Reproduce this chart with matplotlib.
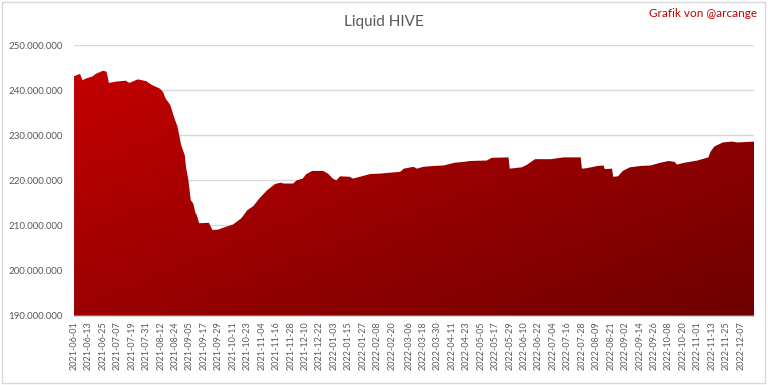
import numpy as np
import pandas as pd
import matplotlib
matplotlib.use("Agg")
import matplotlib.pyplot as plt
import matplotlib.dates as mdates
from matplotlib.ticker import FuncFormatter
from matplotlib.patches import Rectangle

# Liquid HIVE (millions of HIVE)
dates = [
    "2021-06-01", "2021-06-06", "2021-06-08", "2021-06-11", "2021-06-16", "2021-06-19",
    "2021-06-25", "2021-06-28", "2021-06-30", "2021-07-06", "2021-07-14", "2021-07-17",
    "2021-07-24", "2021-07-31", "2021-08-05", "2021-08-11", "2021-08-14", "2021-08-16",
    "2021-08-20", "2021-08-23", "2021-08-26", "2021-08-29", "2021-09-01", "2021-09-02",
    "2021-09-04", "2021-09-06", "2021-09-08", "2021-09-10", "2021-09-11", "2021-09-13",
    "2021-09-21", "2021-09-24", "2021-09-29", "2021-10-05", "2021-10-11", "2021-10-18",
    "2021-10-23", "2021-10-28", "2021-11-02", "2021-11-08", "2021-11-15", "2021-11-20",
    "2021-11-22", "2021-11-30", "2021-12-03", "2021-12-08", "2021-12-11", "2021-12-16",
    "2021-12-25", "2021-12-29", "2022-01-02", "2022-01-05", "2022-01-08", "2022-01-16",
    "2022-01-19", "2022-01-26", "2022-02-02", "2022-02-10", "2022-02-27", "2022-03-02",
    "2022-03-10", "2022-03-13", "2022-03-18", "2022-03-27", "2022-04-04", "2022-04-13",
    "2022-04-21", "2022-04-26", "2022-05-10", "2022-05-14", "2022-05-28", "2022-05-29",
    "2022-06-08", "2022-06-12", "2022-06-19", "2022-07-02", "2022-07-13", "2022-07-27",
    "2022-07-28", "2022-08-01", "2022-08-10", "2022-08-15", "2022-08-16", "2022-08-22",
    "2022-08-23", "2022-08-27", "2022-08-31", "2022-09-06", "2022-09-15", "2022-09-23",
    "2022-10-01", "2022-10-08", "2022-10-13", "2022-10-15", "2022-10-21", "2022-11-01",
    "2022-11-10", "2022-11-12", "2022-11-15", "2022-11-22", "2022-11-30", "2022-12-04",
    "2022-12-18",
]
liquid_m = [
    243.1, 243.6, 242.2, 242.6, 243.0, 243.6,
    244.3, 244.1, 241.6, 241.9, 242.1, 241.6,
    242.4, 242.0, 241.1, 240.4, 239.6, 238.2,
    236.7, 234.1, 231.9, 227.8, 225.6, 223.0,
    220.1, 215.6, 214.9, 212.7, 212.3, 210.5,
    210.6, 209.0, 209.1, 209.7, 210.2, 211.6,
    213.4, 214.3, 216.0, 217.7, 219.2, 219.5,
    219.3, 219.3, 220.0, 220.4, 221.4, 222.1,
    222.1, 221.5, 220.4, 220.0, 220.9, 220.8,
    220.4, 220.9, 221.4, 221.5, 221.9, 222.6,
    223.0, 222.6, 223.0, 223.2, 223.3, 223.9,
    224.1, 224.3, 224.4, 225.0, 225.1, 222.6,
    222.9, 223.4, 224.7, 224.7, 225.1, 225.1,
    222.6, 222.7, 223.2, 223.3, 222.5, 222.6,
    220.8, 220.9, 222.1, 222.9, 223.2, 223.3,
    223.9, 224.3, 224.1, 223.5, 223.9, 224.4,
    225.1, 226.4, 227.5, 228.4, 228.6, 228.4,
    228.6,
]
tick_labels = [
    "2021-06-01", "2021-06-13", "2021-06-25", "2021-07-07", "2021-07-19", "2021-07-31",
    "2021-08-12", "2021-08-24", "2021-09-05", "2021-09-17", "2021-09-29", "2021-10-11",
    "2021-10-23", "2021-11-04", "2021-11-16", "2021-11-28", "2021-12-10", "2021-12-22",
    "2022-01-03", "2022-01-15", "2022-01-27", "2022-02-08", "2022-02-20", "2022-03-06",
    "2022-03-18", "2022-03-30", "2022-04-11", "2022-04-23", "2022-05-05", "2022-05-17",
    "2022-05-29", "2022-06-10", "2022-06-22", "2022-07-04", "2022-07-16", "2022-07-28",
    "2022-08-09", "2022-08-21", "2022-09-02", "2022-09-14", "2022-09-26", "2022-10-08",
    "2022-10-20", "2022-11-01", "2022-11-13", "2022-11-25", "2022-12-07",
]

x = mdates.date2num(pd.to_datetime(dates))
y = np.array(liquid_m) * 1e6

plt.rcParams['font.family'] = ['Liberation Sans Narrow', 'Lato', 'DejaVu Sans']

fig = plt.figure(figsize=(7.68, 3.85), dpi=100, facecolor='white')
ax = fig.add_axes([0.0964, 0.180, 0.8854, 0.703])

ymin, ymax = 190e6, 250e6

# area with diagonal gradient (bright red top-left -> dark red bottom-right)
poly = ax.fill_between(x, ymin, y, facecolor='none', edgecolor='none')
nx, ny = 300, 150
gx, gy = np.meshgrid(np.linspace(0, 1, nx), np.linspace(0, 1, ny))
t = (gx + gy) / 2
c0 = np.array([200, 0, 0]) / 255
c1 = np.array([110, 0, 0]) / 255
img = c0[None, None, :] * (1 - t[..., None]) + c1[None, None, :] * t[..., None]
im = ax.imshow(img, extent=[x[0], x[-1], ymin, ymax], origin='upper',
               aspect='auto', zorder=2, interpolation='bilinear')
im.set_clip_path(poly.get_paths()[0], transform=ax.transData)

ax.set_xlim(x[0], x[-1])
ax.set_ylim(ymin, ymax)
ax.set_yticks(np.arange(190e6, 250e6 + 1, 10e6))
ax.yaxis.set_major_formatter(FuncFormatter(lambda v, p: f"{int(v):,}".replace(",", ".")))
ax.grid(axis='y', color='#d9d9d9', linewidth=1, zorder=0)
ax.set_axisbelow(True)

ax.set_xticks(mdates.date2num(pd.to_datetime(tick_labels)))
ax.set_xticklabels(tick_labels, rotation=90)

ax.tick_params(axis='y', length=0, labelsize=7, labelcolor='#595959', pad=8)
ax.tick_params(axis='x', length=0, labelsize=6.5, labelcolor='#595959', pad=4)
for s in ['top', 'right', 'left']:
    ax.spines[s].set_visible(False)
ax.spines['bottom'].set_color('#d9d9d9')

fig.text(0.5, 0.943, 'Liquid HIVE', ha='center', va='center', fontsize=11,
         color='#595959', family=['Lato', 'DejaVu Sans'])
fig.text(0.986, 0.965, 'Grafik von @arcange', ha='right', va='center', fontsize=8.5,
         color='#c00000', family=['Lato', 'DejaVu Sans'])

fig.patches.append(Rectangle((0.002, 0.006), 0.994, 0.99, transform=fig.transFigure,
                             fill=False, edgecolor='#d9d9d9', linewidth=1))

fig.savefig('out.png', dpi=100, facecolor='white')
